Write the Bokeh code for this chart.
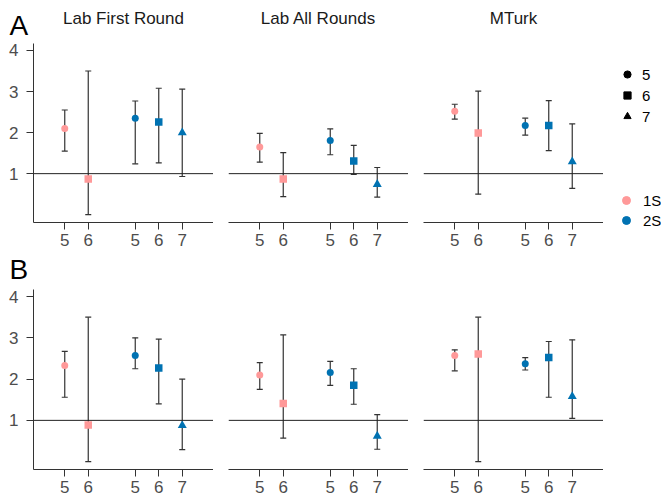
import numpy as np
from bokeh.plotting import figure
from bokeh.models import (ColumnDataSource, Whisker, TeeHead, Span, Label, Legend,
                          LegendItem, FixedTicker)
from bokeh.layouts import row, column
from bokeh.embed import file_html
from bokeh.resources import INLINE
from bokeh.transform import factor_cmap, factor_mark

# ---------------- data ----------------
panels = ["A", "B"]
facets = ["Lab First Round", "Lab All Rounds", "MTurk"]
groups = ["1S", "1S", "2S", "2S", "2S"]
sizes = ["5", "6", "5", "6", "7"]
group_levels = ["1S", "2S"]
size_levels = ["5", "6", "7"]
y_ticks = [1, 2, 3, 4]
ref_line = 1

# Panel A
a_first_mean = [2.10, 0.87, 2.35, 2.26, 2.00]
a_first_lo = [1.55, 0.00, 1.24, 1.26, 0.93]
a_first_hi = [2.55, 3.50, 2.77, 3.08, 3.06]

a_all_mean = [1.65, 0.87, 1.81, 1.31, 0.74]
a_all_lo = [1.28, 0.44, 1.46, 0.98, 0.43]
a_all_hi = [1.98, 1.51, 2.09, 1.69, 1.15]

a_mturk_mean = [2.52, 1.99, 2.17, 2.17, 1.29]
a_mturk_lo = [2.33, 0.50, 1.94, 1.56, 0.64]
a_mturk_hi = [2.69, 3.01, 2.35, 2.78, 2.21]

# Panel B
b_first_mean = [2.33, 0.89, 2.57, 2.27, 0.88]
b_first_lo = [1.56, 0.00, 2.25, 1.40, 0.29]
b_first_hi = [2.67, 3.50, 3.00, 2.97, 2.00]

b_all_mean = [2.10, 1.41, 2.16, 1.85, 0.62]
b_all_lo = [1.75, 0.57, 1.85, 1.39, 0.30]
b_all_hi = [2.40, 3.07, 2.43, 2.25, 1.14]

b_mturk_mean = [2.57, 2.61, 2.37, 2.52, 1.58]
b_mturk_lo = [2.20, 0.00, 2.22, 1.56, 1.05]
b_mturk_hi = [2.71, 3.50, 2.52, 2.91, 2.95]

data = {
    "A": [(a_first_mean, a_first_lo, a_first_hi),
          (a_all_mean, a_all_lo, a_all_hi),
          (a_mturk_mean, a_mturk_lo, a_mturk_hi)],
    "B": [(b_first_mean, b_first_lo, b_first_hi),
          (b_all_mean, b_all_lo, b_all_hi),
          (b_mturk_mean, b_mturk_lo, b_mturk_hi)],
}

# ---------------- style ----------------
FONT = "Liberation Sans"
PALETTE = ["#FF9999", "#0072B2"]
MARKERS = ["circle", "square", "triangle"]
MARKER_SIZE = {"5": 7, "6": 7.5, "7": 9}
AXIS_COL = "#333333"
TICK_TXT = "#4D4D4D"
BAR_COL = "#333333"

FRAME_W = 180
LEFT0 = 33      # left border of first facet (y axis)
GAP = 15        # gap between facets
LEG_W = 58      # legend column width

# x positions: consecutive within a group, one empty slot between groups
xs = []
pos = 0
prev = None
for g in groups:
    pos += 1 if (prev is None or prev == g) else 2
    xs.append(pos)
    prev = g


def bare_fig(width, height):
    p = figure(width=width, height=height, x_range=(0, 1), y_range=(0, 1),
               output_backend="svg", toolbar_location=None,
               x_axis_location=None, y_axis_location=None,
               min_border_left=0, min_border_right=0,
               min_border_top=0, min_border_bottom=0)
    p.outline_line_color = None
    p.grid.visible = False
    return p


def make_header(panel, height, letter_y, with_titles):
    total_w = LEFT0 + 3 * FRAME_W + 2 * GAP
    h = bare_fig(total_w, height)
    h.add_layout(Label(x=9, y=letter_y, x_units="screen", y_units="screen",
                       text=panel, text_align="left", text_baseline="middle",
                       text_font=FONT, text_font_size="28px", text_color="black"))
    if with_titles:
        for i, name in enumerate(facets):
            cx = LEFT0 + i * (FRAME_W + GAP) + FRAME_W / 2
            h.add_layout(Label(x=cx, y=22, x_units="screen", y_units="screen",
                               text=name, text_align="center",
                               text_baseline="middle", text_font=FONT,
                               text_font_size="17px", text_color="#1A1A1A"))
    return h


def make_fig(panel, i, height, top, bottom):
    left = LEFT0 if i == 0 else GAP
    width = left + FRAME_W
    p = figure(width=width, height=height,
               x_range=(-0.33, 7.33), y_range=(-0.19, 4.17),
               output_backend="svg", toolbar_location=None,
               min_border_left=left, min_border_right=0,
               min_border_top=top, min_border_bottom=bottom,
               y_axis_location="left" if i == 0 else None)
    p.outline_line_color = None
    p.grid.visible = False

    ax = p.xaxis[0]
    ax.ticker = FixedTicker(ticks=xs)
    ax.major_label_overrides = {x: s for x, s in zip(xs, sizes)}
    ax.major_tick_out = 7
    ax.major_tick_in = 0
    ax.minor_tick_line_color = None
    ax.axis_line_color = AXIS_COL
    ax.major_tick_line_color = AXIS_COL
    ax.major_label_text_font = FONT
    ax.major_label_text_font_size = "17px"
    ax.major_label_text_color = TICK_TXT
    ax.major_label_standoff = 4

    if i == 0:
        ay = p.yaxis[0]
        ay.ticker = FixedTicker(ticks=y_ticks)
        ay.major_tick_out = 7
        ay.major_tick_in = 0
        ay.minor_tick_line_color = None
        ay.axis_line_color = AXIS_COL
        ay.major_tick_line_color = AXIS_COL
        ay.major_label_text_font = FONT
        ay.major_label_text_font_size = "17px"
        ay.major_label_text_color = TICK_TXT
        ay.major_label_standoff = 8

    mean, lo, hi = data[panel][i]
    src = ColumnDataSource(dict(
        x=xs, mean=mean, lo=lo, hi=hi, group=groups, size=sizes,
        msize=[MARKER_SIZE[s] for s in sizes]))

    p.add_layout(Span(location=ref_line, dimension="width",
                      line_color="#222222", line_width=1))

    wh = Whisker(source=src, base="x", upper="hi", lower="lo", dimension="height",
                 line_color=BAR_COL, line_width=1.2, level="underlay",
                 upper_head=TeeHead(size=6, line_color=BAR_COL, line_width=1.2),
                 lower_head=TeeHead(size=6, line_color=BAR_COL, line_width=1.2))
    p.add_layout(wh)

    p.scatter(x="x", y="mean", source=src, size="msize",
              marker=factor_mark("size", MARKERS, size_levels),
              color=factor_cmap("group", PALETTE, group_levels),
              line_width=0)
    return p


def make_legend_fig(height):
    p = bare_fig(LEG_W, height)
    shape_items = []
    for lvl, mk in zip(size_levels, MARKERS):
        r = p.scatter(x=[np.nan], y=[np.nan], marker=mk, color="black", size=7)
        shape_items.append(LegendItem(label=lvl, renderers=[r]))
    color_items = []
    for lvl, c in zip(group_levels, PALETTE):
        r = p.scatter(x=[np.nan], y=[np.nan], marker="circle", color=c, size=8)
        color_items.append(LegendItem(label=lvl, renderers=[r]))
    leg1 = Legend(items=shape_items, location=(15, height - 126),
                  glyph_width=18, glyph_height=18, label_height=20, spacing=1,
                  label_standoff=6, padding=0, margin=0,
                  border_line_color=None, background_fill_alpha=0,
                  label_text_font=FONT, label_text_font_size="15px",
                  label_text_color="black")
    leg2 = Legend(items=color_items, location=(13, height - 230),
                  glyph_width=20, glyph_height=20, label_height=20, spacing=0,
                  label_standoff=7, padding=0, margin=0,
                  border_line_color=None, background_fill_alpha=0,
                  label_text_font=FONT, label_text_font_size="15px",
                  label_text_color="black")
    p.add_layout(leg1)
    p.add_layout(leg2)
    return p


headA = make_header("A", 40, 15, True)
rowA = row(*[make_fig("A", i, 213, 3, 31) for i in range(3)])
headB = make_header("B", 33, 17, False)
rowB = row(*[make_fig("B", i, 216, 3, 33) for i in range(3)])
left_col = column(headA, rowA, headB, rowB)
layout = row(left_col, make_legend_fig(502))

open("out.html", "w").write(file_html(layout, INLINE))
